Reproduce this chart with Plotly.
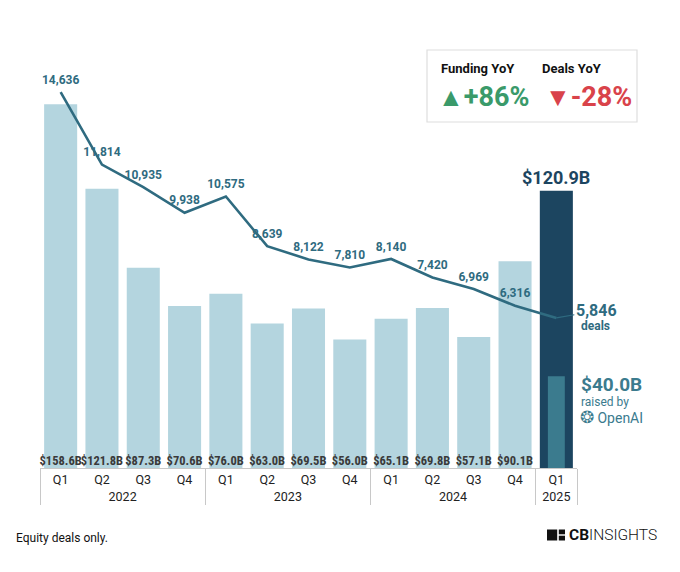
import plotly.graph_objects as go

years = ["2022"] * 4 + ["2023"] * 4 + ["2024"] * 4 + ["2025"]
quarters = ["Q1", "Q2", "Q3", "Q4"] * 3 + ["Q1"]
funding_b = [158.6, 121.8, 87.3, 70.6, 76.0, 63.0, 69.5, 56.0, 65.1, 69.8, 57.1, 90.1, 120.9]
deals = [14636, 11814, 10935, 9938, 10575, 8639, 8122, 7810, 8140, 7420, 6969, 6316, 5846]
openai_b = [None] * 12 + [40.0]

LIGHT = "#b4d5df"
DARK = "#1c4560"
TEAL = "#3b7b8e"
LINE = "#2f6b80"
FONT = "Roboto"
NARROW = "Roboto Condensed, Liberation Sans Narrow, DejaVu Sans Condensed, Roboto"

# page offset (body margin) compensation
OFF = 8
W, H = 680 - OFF, 572 - OFF
PL, PR, PT, PB = 40, 577, 40, 468          # plot area in reference pixels
L, T = PL - OFF, PT - OFF
R = W - (PR - OFF)
B = H - (PB - OFF)
pw, ph = PR - PL, PB - PT


def px(xp):
    return (xp - PL) / pw


def py(yp):
    return (PB - yp) / ph


x = [years, quarters]
n = len(funding_b)

bar_colors = [LIGHT] * (n - 1) + [DARK]
bar_text = ["$%.1fB" % v for v in funding_b[:-1]] + [""]
deal_text = ["{:,}".format(v) for v in deals[:-1]] + [""]

fig = go.Figure()
fig.add_trace(go.Bar(x=x, y=funding_b, marker=dict(color=bar_colors, line=dict(width=0)),
                     width=0.8, hoverinfo="skip", showlegend=False))
fig.add_trace(go.Bar(x=x, y=openai_b, marker=dict(color=TEAL, line=dict(width=0)),
                     width=0.41, hoverinfo="skip", showlegend=False))
fig.add_trace(go.Scatter(x=x, y=[0] * n, mode="text", text=bar_text, textposition="top center",
                         textfont=dict(family=NARROW, size=12.5, color="#3a3a3a", weight="bold"),
                         hoverinfo="skip", showlegend=False, cliponaxis=False))
fig.add_trace(go.Scatter(x=x, y=deals, yaxis="y2", mode="lines+markers+text", text=deal_text,
                         textposition="top center",
                         textfont=dict(family=FONT, size=12, color=LINE, weight="bold"),
                         marker=dict(size=7, opacity=0, color=LINE),
                         line=dict(color=LINE, width=2.6), hoverinfo="skip", showlegend=False,
                         cliponaxis=False))

last = n - 1
ann = []
ann.append(dict(x=last, y=funding_b[-1], xref="x", yref="y", text="<b>$%.1fB</b>" % funding_b[-1],
                showarrow=False, yanchor="bottom", yshift=1,
                font=dict(family=FONT, size=18, color=DARK)))
ann.append(dict(x=last, y=deals[-1], xref="x", yref="y2",
                text="<b>{:,}</b>".format(deals[-1]),
                showarrow=True, arrowhead=0, arrowcolor=LINE, arrowwidth=1.2, ax=40, ay=-7,
                align="center", font=dict(family=FONT, size=16, color=LINE)))
ann.append(dict(x=last, y=deals[-1], xref="x", yref="y2", text="<b>deals</b>",
                showarrow=False, xanchor="center", yanchor="middle", xshift=39, yshift=-8,
                font=dict(family=FONT, size=12, color=LINE)))
ann.append(dict(x=last, y=openai_b[-1], xref="x", yref="y", text="<b>$%.1fB</b>" % openai_b[-1],
                showarrow=False, xanchor="left", yanchor="middle", xshift=23, yshift=-8,
                font=dict(family=FONT, size=19, color=TEAL)))
ann.append(dict(x=last, y=openai_b[-1], xref="x", yref="y", text="raised by",
                showarrow=False, xanchor="left", yanchor="middle", xshift=23, yshift=-26,
                font=dict(family=FONT, size=12, color=TEAL)))
ann.append(dict(x=last, y=openai_b[-1], xref="x", yref="y",
                text="<span style='font-size:17px'>\u2742</span> OpenAI",
                showarrow=False, xanchor="left", yanchor="middle", xshift=22, yshift=-41,
                font=dict(family=FONT, size=14, color=TEAL)))

paper_ann = [
    dict(x=439, y=68, text="<b>Funding YoY</b>", font=dict(family=FONT, size=13, color="#111")),
    dict(x=540, y=68, text="<b>Deals YoY</b>", font=dict(family=FONT, size=13, color="#111")),
    dict(x=436, y=97, text="<span style='font-size:26px'>\u25b2</span><b>+86%</b>",
         font=dict(family=FONT, size=27, color="#3a9a6a")),
    dict(x=543, y=97, text="<span style='font-size:26px'>\u25bc</span><b>-28%</b>",
         font=dict(family=FONT, size=27, color="#d9434a")),
    dict(x=14, y=538, text="Equity deals only.", font=dict(family=FONT, size=12, color="#111")),
    dict(x=567, y=535, text="<b>CB</b><span style='font-weight:300'>INSIGHTS</span>",
         font=dict(family=FONT, size=15.5, color="#111")),
]
for a in paper_ann:
    a.update(xref="paper", yref="paper", x=px(a["x"]), y=py(a["y"]),
             xanchor="left", yanchor="middle", showarrow=False)
    ann.append(a)

shapes = [
    dict(type="rect", xref="paper", yref="paper", x0=px(427), x1=px(637), y0=py(50), y1=py(122),
         line=dict(color="#dedede", width=1.2), fillcolor="white", layer="below"),
    dict(type="rect", xref="paper", yref="paper", x0=px(547), x1=px(565), y0=py(529.5), y1=py(540.5),
         line=dict(width=0), fillcolor="#111"),
    dict(type="line", xref="paper", yref="paper", x0=px(558), x1=px(558), y0=py(529), y1=py(541),
         line=dict(color="white", width=1.6)),
    dict(type="line", xref="paper", yref="paper", x0=px(558), x1=px(566), y0=py(535), y1=py(535),
         line=dict(color="white", width=1.4)),
]

fig.update_layout(
    width=W, height=H,
    margin=dict(l=L, r=R, t=T, b=B, autoexpand=False),
    paper_bgcolor="white", plot_bgcolor="white",
    barmode="overlay",
    font=dict(family=FONT, color="#222"),
    xaxis=dict(type="multicategory", range=[-0.5, n - 0.5], autorange=False,
               showline=True, linecolor="#c8c8c8", linewidth=1,
               showdividers=True, dividercolor="#c8c8c8", dividerwidth=1,
               tickfont=dict(family=FONT, size=12.5, color="#222"), showgrid=False, ticks="",
               fixedrange=True),
    yaxis=dict(visible=False, range=[0, 186.6], fixedrange=True),
    yaxis2=dict(visible=False, range=[0, 16667], overlaying="y", fixedrange=True),
    annotations=ann,
    shapes=shapes,
    showlegend=False,
)

fig.write_html("out.html")
